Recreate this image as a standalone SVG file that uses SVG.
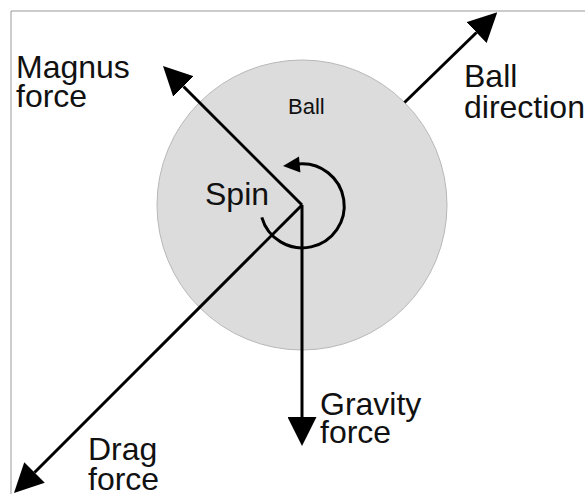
<svg xmlns="http://www.w3.org/2000/svg" width="585" height="494" viewBox="0 0 585 494">
<style>
.lbl{font-family:"Liberation Sans",Arial,sans-serif;font-size:32px;fill:#111}
.small{font-size:22px}
.arr{stroke:#000;stroke-width:3;fill:none}
</style>
<defs>
<marker id="ah" viewBox="0 0 29 29" refX="0" refY="14.5" markerWidth="29" markerHeight="29" markerUnits="userSpaceOnUse" orient="auto">
<path d="M0,0 L29,14.5 L0,29 z" fill="#000"/>
</marker>
</defs>
<rect width="585" height="494" fill="#fff"/>
<path d="M11,494 L11,11 L585,11" fill="none" stroke="#999" stroke-width="1"/>
<g id="ball">
<circle cx="302" cy="205" r="145" fill="#dcdcdc" stroke="#b8b8b8" stroke-width="1"/>
<text class="lbl small" x="288" y="114">Ball</text>
</g>
<g id="spin">
<path class="arr" d="M261.8,217.3 A42,42 0 1 0 298.4,164"/>
<polygon points="283,166 299,156.5 300.4,172.5" fill="#000"/>
<text class="lbl" x="205" y="205">Spin</text>
</g>
<g id="connectors">
<line class="arr" x1="302" y1="205" x2="183.5" y2="86.5" marker-end="url(#ah)"/>
<line class="arr" x1="404.5" y1="102.5" x2="476.5" y2="32.5" marker-end="url(#ah)"/>
<line class="arr" x1="302" y1="205" x2="34.5" y2="472.5" marker-end="url(#ah)"/>
<line class="arr" x1="302" y1="205" x2="302" y2="417" marker-end="url(#ah)"/>
</g>
<g id="magnus">
<text class="lbl" x="16" y="78">Magnus</text>
<text class="lbl" x="16" y="107">force</text>
</g>
<g id="direction">
<text class="lbl" x="464" y="87">Ball</text>
<text class="lbl" x="464" y="118">direction</text>
</g>
<g id="gravity">
<text class="lbl" x="320" y="415">Gravity</text>
<text class="lbl" x="320" y="443">force</text>
</g>
<g id="drag">
<text class="lbl" x="88" y="460">Drag</text>
<text class="lbl" x="88" y="490">force</text>
</g>
</svg>
